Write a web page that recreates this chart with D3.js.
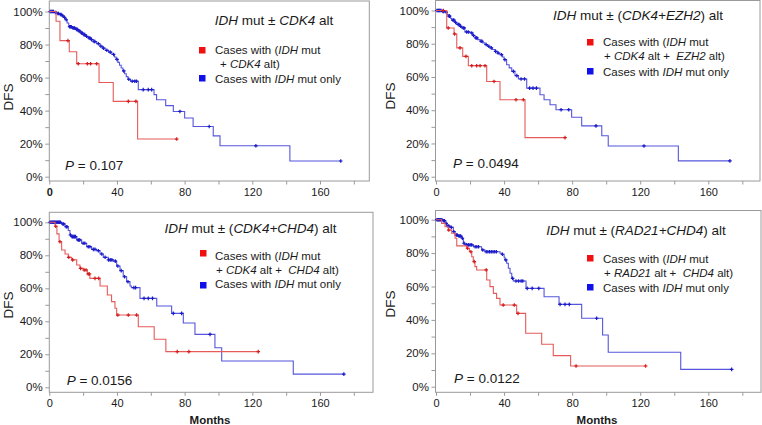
<!DOCTYPE html>
<html><head><meta charset="utf-8">
<script src="https://cdn.jsdelivr.net/npm/d3@7"></script>
<style>
body{margin:0;background:#fff}
svg{display:block;font-family:"Liberation Sans",Arial,sans-serif}
text{white-space:pre}
</style></head><body>
<svg id="c" width="762" height="425"></svg>
<script>
// ---------------- DATA ----------------
const xTicks = [0,20,40,60,80,100,120,140,160,180];
const yTicks = [0,10,20,30,40,50,60,70,80,90,100];

// Panel 1: IDH mut ± CDK4 alt
const p1Red = [[0,100],[4,94.1],[6.3,82.4],[11.8,75.6],[16.2,68.4],[29.4,57],[37.8,45.6],[52.2,22.8]];
const p1RedCens = [11,17.1,22.5,24.4,28,46.7,51.2,75.3];
const p1Blue = [[0,100],[3,99.4],[4.5,98.8],[6,98.2],[7.5,97.4],[8.5,96.4],[9.5,95],[10.5,93],[11.5,90.8],[13.5,90],[15.5,89.2],[17,88.2],[18.5,87],[20,86],[21.5,85],[23,84],[24.5,83],[26,81.8],[28,80.5],[30,79],[31.5,77.8],[33,76.5],[35,75.4],[37,74],[38.5,72.5],[39.5,71],[40.5,69.2],[41.5,67.5],[42.5,65.8],[43.5,64],[44.5,62.3],[45.5,60.6],[46.5,59],[48,57.8],[52.6,52.7],[61.9,49.7],[63.4,46.6],[68.8,43],[73.3,39.5],[80,35.5],[85,30.4],[96.9,24.7],[100.9,18.7],[142.2,9.5]];
const p1BlueCens = [0.5,1,1.5,2,2.5,3.5,4,5,5.5,6.5,7,8,9,10,12,12.5,13,14,14.5,15,16,16.5,17.5,18,19,19.5,20.5,21,22,23.5,24,25,26.5,27,29,30.5,32,34,36,38,40,44,47,49,50.5,51.5,55.5,58.5,60.5,77.2,94.5,122.1,172.3];

// Panel 2: IDH mut ± (CDK4+EZH2) alt
const p2Red = [[0,100],[6.3,89.5],[10.6,85.9],[12.2,77.5],[15.7,72.4],[19,66.8],[29.8,57.3],[37.6,46.3],[52.3,23.5]];
const p2RedCens = [4.3,7.2,10.9,14.1,17.6,21,23.9,25.9,28.8,34.1,47,51.3,75.8];
const p2Blue = [[0,100],[3.3,99.5],[5.3,99],[6.5,97.5],[7.2,96.6],[8.5,95.3],[9.2,94.2],[11,92.8],[12.2,91.6],[14,90.5],[15.1,89.5],[17,87.1],[20,86.5],[21.5,85],[22.9,83.5],[24.5,82.5],[25.9,81.5],[27.5,80.5],[28.8,79.5],[30.2,78.5],[31.7,77.5],[33.2,76.5],[34.7,75.4],[36.2,74.4],[37.6,73.4],[39,72],[40,70.4],[41.5,67.4],[43,65.5],[44.5,63.4],[46.4,60.8],[48.4,58.8],[53.3,53.3],[61.1,49.3],[63.5,46.3],[67,43.3],[70.5,40.3],[79.7,35.8],[85.6,30.6],[97.4,24.6],[101.2,18.5],[142.4,9.5]];
const p2BlueCens = [0.5,1,1.5,2,2.5,3,4,4.5,6,7.7,8,10,10.5,11.5,13,13.5,14.5,16,16.5,18,19,21,22,23.5,24,26.5,27,29.5,31,32.5,35,36.5,38.5,40.5,45.5,47.5,50,52,55,57,59,73.5,78,94,122.2,172.7];

// Panel 3: IDH mut ± (CDK4+CHD4) alt
const p3Red = [[0,100],[3.4,97.6],[4.5,93],[5.8,88.2],[7.3,83.2],[9.3,80.8],[11.2,78.8],[13.2,77.2],[16.2,74.1],[18.1,72.1],[20.1,71.1],[22.5,68.7],[24,66],[30,61.4],[34.3,55.9],[36.8,51.9],[38.8,47.9],[39.8,43.8],[52.6,36.7],[62,29.1],[68.9,21.6]];
const p3RedCens = [3.8,6.3,11.5,13.8,18.5,20.6,21.7,23,23.7,27,29.2,40.5,46.7,51.6,75.6,82.5,123.5];
const p3Blue = [[0,100],[7.3,99],[9.3,97.3],[11.2,95],[12.2,92.3],[13.2,91.3],[16.2,89.3],[19.1,87.3],[22.1,85.2],[25,83.6],[28,82.8],[30,80.8],[31.9,78.8],[34.9,77.2],[37.8,76.5],[39.8,73.5],[41.8,70.7],[43.7,67],[45.7,64],[47.7,61.4],[48.5,60.4],[53.6,53.9],[63.5,49.3],[72.3,44.8],[79.2,39],[86.1,32.1],[97.9,24],[101.9,15.9],[144.2,8]];
const p3BlueCens = [0.5,1,1.5,2,2.5,3,3.5,4,4.5,5,5.5,6,6.5,8,8.5,10,10.5,12.5,13.5,14,14.5,15,15.5,17,17.5,18,20,21,23,24,26,27,29,31,33,35,36,37,39,40.5,42.5,44.5,46.5,50,51,56,58.5,61,73.3,78.2,95,174.1];

// Panel 4: IDH mut ± (RAD21+CHD4) alt
const p4Red = [[0,100],[3.3,97.8],[5.3,95.8],[7.2,93.8],[9.2,91.9],[11.2,88.9],[12.2,84.3],[18,82.9],[19.6,80.8],[21,77.8],[21.9,74.9],[22.9,71.9],[23.9,69.9],[29.8,63.9],[31.7,59.9],[33.7,55.9],[35.6,52.9],[37.6,48.9],[47.4,43.9],[52.7,32],[62.1,25.4],[68.9,18.6],[79.1,12.4]];
const p4RedCens = [7.5,18.5,20.5,22.5,29.5,39.5,46,48.2,82.3,123.2];
const p4Blue = [[0,100],[4.3,99.4],[5.3,97.8],[6.3,96.2],[8.2,95.4],[10.2,92.8],[11.2,90.8],[13.1,90.2],[15.1,88.9],[16.1,85.9],[17,84.9],[22,83.8],[26.8,81.9],[28.8,80.8],[37.6,79.9],[38.6,79.3],[40,77.5],[40.5,75.9],[41.5,73.9],[42.5,70.9],[43.5,67.9],[44.5,64.9],[45.4,63.3],[52.9,58.9],[63.5,53.9],[72.3,49.3],[85.6,41],[97.9,31],[101.2,20.6],[143.8,10.4]];
const p4BlueCens = [0.5,1,1.5,2,2.5,3,3.5,4.5,5,6,7,7.5,9,10.5,12,12.5,13.5,14,14.5,15.5,16.5,18,19,20,21,23,24,25,27.5,29.5,30.5,31.5,32.5,33.5,34.5,35.5,39,41,45,47,48.5,50,51,53.6,56.5,60.4,72.9,75.8,78.3,94.4,173.7];

// Texts: [text, italic]
const titles = [
  [["IDH",1],[" mut ± ",0],["CDK4",1],[" alt",0]],
  [["IDH",1],[" mut ± (",0],["CDK4+EZH2",1],[") alt",0]],
  [["IDH",1],[" mut ± (",0],["CDK4+CHD4",1],[") alt",0]],
  [["IDH",1],[" mut ± (",0],["RAD21+CHD4",1],[") alt",0]]
];
const legendRed1 = [["Cases with (",0],["IDH",1],[" mut",0]];
const legendRed2 = [
  [["+ ",0],["CDK4",1],[" alt)",0]],
  [["+ ",0],["CDK4",1],[" alt +  ",0],["EZH2",1],[" alt)",0]],
  [["+ ",0],["CDK4",1],[" alt +  ",0],["CHD4",1],[" alt)",0]],
  [["+ ",0],["RAD21",1],[" alt +  ",0],["CHD4",1],[" alt)",0]]
];
const legendBlue = [["Cases with ",0],["IDH",1],[" mut only",0]];
const pValues = ["0.107","0.0494","0.0156","0.0122"];
const yLabel = "DFS";
const xLabel = "Months";

const seriesRed = [p1Red,p2Red,p3Red,p4Red];
const seriesRedCens = [p1RedCens,p2RedCens,p3RedCens,p4RedCens];
const seriesBlue = [p1Blue,p2Blue,p3Blue,p4Blue];
const seriesBlueCens = [p1BlueCens,p2BlueCens,p3BlueCens,p4BlueCens];

// ---------------- LAYOUT ----------------
const layout = [
 {fr:[49.3,369.3,1,181], x0:49.3, x160:320, y0:176.7, y100:11.5, title:[274,25], leg:{sqX:199,sqY1:47,tx:215,tx2:220,b1:53.5,b2:67.5,sqY2:75,b3:82.5}, p:[65,170], dfs:[8,97], months:null, boldZero:true},
 {fr:[435.5,760,0.5,181], x0:436, x160:708.3, y0:176.7, y100:10.5, title:[638,20], leg:{sqX:587,sqY1:39,tx:603,tx2:604,b1:46,b2:59.5,sqY2:68,b3:75.5}, p:[453,168], dfs:[390,96], months:null},
 {fr:[49.3,373,212.3,392.3], x0:49.3, x160:320, y0:387.3, y100:222.3, title:[250.5,232.5], leg:{sqX:200,sqY1:250,tx:215,tx2:216,b1:260,b2:274,sqY2:282,b3:288}, p:[66.7,385], dfs:[8,305], months:[210,424]},
 {fr:[435.5,761,210.5,392.3], x0:436, x160:708.3, y0:386.7, y100:219.7, title:[636,234.5], leg:{sqX:587,sqY1:255,tx:603,tx2:604,b1:263,b2:277,sqY2:284,b3:292}, p:[454,382.5], dfs:[390,304], months:[597,424]}
];

const COL = {redLine:"#e65a5a", redMark:"#d41c1c", blueLine:"#5555dd", blueMark:"#1a1ac8",
             redSq:"#f01010", blueSq:"#1010e8", frame:"#9a9a9a", text:"#1a1a1a"};

const svg = d3.select("#c");

function rich(g, x, y, segs, size, anchor, weight){
  const t = g.append("text").attr("x",x).attr("y",y).attr("font-size",size)
    .attr("fill",COL.text).attr("text-anchor",anchor||"start");
  if(weight) t.attr("font-weight",weight);
  segs.forEach(s => t.append("tspan").text(s[0]).attr("font-style", s[1] ? "italic" : "normal"));
  return t;
}

function valueAt(steps, t){
  let v = steps[0][1];
  for(const s of steps){ if(s[0] <= t) v = s[1]; else break; }
  return v;
}

layout.forEach((L, i) => {
  const g = svg.append("g");
  const x = d3.scaleLinear().domain([0,160]).range([L.x0, L.x160]);
  const y = d3.scaleLinear().domain([0,100]).range([L.y0, L.y100]);
  const [fl, frr, ft, fb] = L.fr;

  // frame
  g.append("rect").attr("x",fl).attr("y",ft).attr("width",frr-fl).attr("height",fb-ft)
    .attr("fill","none").attr("stroke",COL.frame).attr("stroke-width",1);

  // y axis ticks
  const ya = g.append("g").attr("transform",`translate(${fl},0)`)
    .call(d3.axisLeft(y).tickValues(yTicks).tickSize(4).tickPadding(2.6)
      .tickFormat(d => d % 20 === 0 ? d + "%" : ""));
  ya.select(".domain").remove();
  ya.selectAll("line").attr("stroke",COL.frame);
  ya.selectAll("text").attr("font-size",11.5).attr("fill",COL.text).attr("font-family",null);

  // x axis ticks
  const xa = g.append("g").attr("transform",`translate(0,${fb})`)
    .call(d3.axisBottom(x).tickValues(xTicks).tickSize(3.5).tickPadding(3.7)
      .tickFormat(d => d % 40 === 0 && d <= 160 ? String(d) : ""));
  xa.select(".domain").remove();
  xa.selectAll("line").attr("stroke",COL.frame);
  xa.selectAll("text").attr("font-size",11).attr("fill",COL.text).attr("font-family",null)
    .attr("font-weight", d => (L.boldZero && d === 0) ? "bold" : null);

  // curves
  const line = d3.line().x(d => x(d[0])).y(d => y(d[1])).curve(d3.curveStepAfter);
  const drawKM = (steps, cens, lineCol, markCol) => {
    const end = d3.max(cens.concat(steps.map(s => s[0])));
    const pts = steps.concat([[end, steps[steps.length-1][1]]]);
    g.append("path").attr("d", line(pts)).attr("fill","none")
      .attr("stroke", lineCol).attr("stroke-width",1.1);
    g.selectAll(null).data(cens).enter().append("path")
      .attr("transform", t => `translate(${x(t)},${y(valueAt(steps,t))})`)
      .attr("d","M-1.8,0H1.8M0,-1.8V1.8")
      .attr("stroke", markCol).attr("stroke-width",1.2).attr("fill","none");
  };
  drawKM(seriesBlue[i], seriesBlueCens[i], COL.blueLine, COL.blueMark);
  drawKM(seriesRed[i], seriesRedCens[i], COL.redLine, COL.redMark);

  // title
  rich(g, L.title[0], L.title[1], titles[i], 13.5, "middle");

  // legend
  const lg = L.leg;
  g.append("rect").attr("x",lg.sqX).attr("y",lg.sqY1).attr("width",6.5).attr("height",6.5).attr("fill",COL.redSq);
  rich(g, lg.tx, lg.b1, legendRed1, 11.5);
  rich(g, lg.tx2, lg.b2, legendRed2[i], 11.5);
  g.append("rect").attr("x",lg.sqX).attr("y",lg.sqY2).attr("width",6.5).attr("height",6.5).attr("fill",COL.blueSq);
  rich(g, lg.tx, lg.b3, legendBlue, 11.5);

  // P value
  rich(g, L.p[0], L.p[1], [["P",1],[" = " + pValues[i],0]], 13.5);

  // y label
  g.append("text").attr("transform",`translate(${L.dfs[0]},${L.dfs[1]}) rotate(-90)`)
    .attr("text-anchor","middle").attr("dy","0.35em").attr("font-size",13.5)
    .attr("fill",COL.text).text(yLabel);

  // x label
  if(L.months){
    g.append("text").attr("x",L.months[0]).attr("y",L.months[1]).attr("text-anchor","middle")
      .attr("font-size",11.5).attr("font-weight","bold").attr("fill",COL.text).text(xLabel);
  }
});
</script>
</body></html>
